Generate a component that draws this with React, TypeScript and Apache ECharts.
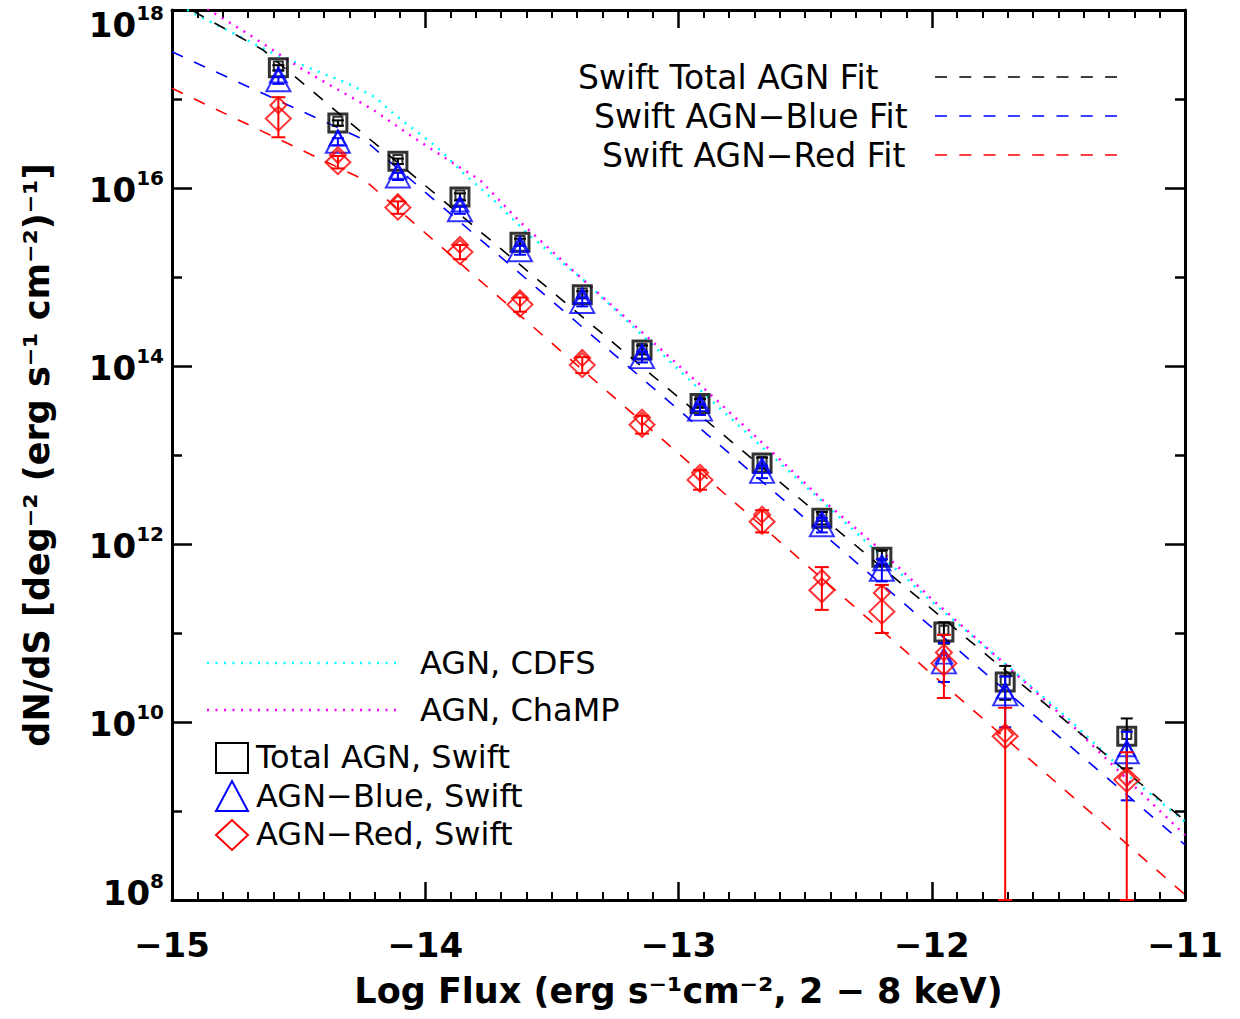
import React, { useEffect, useRef } from 'react';
import * as echarts from 'echarts';

// ---------- data (x: log flux, y: log10 dN/dS) ----------
const logS = [-14.58, -14.345, -14.108, -13.863, -13.626, -13.38, -13.144, -12.915, -12.67, -12.434, -12.197, -11.952, -11.71, -11.23];

const total = [17.35, 16.73, 16.30, 15.90, 15.39, 14.80, 14.18, 13.58, 12.91, 12.29, 11.85, 11.01, 10.45, 9.84];
const totalHi = [17.38, 16.76, 16.33, 15.94, 15.43, 14.84, 14.23, 13.63, 12.97, 12.36, 11.93, 11.12, 10.63, 10.04];
const totalLo = [17.32, 16.70, 16.27, 15.86, 15.35, 14.76, 14.13, 13.53, 12.85, 12.22, 11.77, 10.88, 10.25, 9.48];
const totalAlt = [17.37, 16.75, 16.32, 15.92, 15.41, 14.82, 14.20, 13.60, 12.93, 12.31, 11.87, 11.03, 10.47, 9.86];

const blue = [17.21, 16.52, 16.13, 15.75, 15.30, 14.72, 14.10, 13.51, 12.81, 12.21, 11.71, 10.67, 10.31, 9.66];
const blueHi = [17.25, 16.56, 16.17, 15.79, 15.35, 14.77, 14.16, 13.57, 12.88, 12.29, 11.83, 10.89, 10.51, 9.89];
const blueLo = [17.17, 16.48, 16.09, 15.71, 15.25, 14.67, 14.04, 13.45, 12.74, 12.13, 11.58, 10.45, 9.94, 9.12];
const blueAlt = [17.27, 16.56, 16.19, 15.82, 15.37, 14.79, 14.16, 13.58, 12.88, 12.28, 11.79, 10.74, 10.35, 9.70];

const red = [16.78, 16.29, 15.78, 15.28, 14.69, 14.01, 13.34, 12.72, 12.25, 11.48, 11.24, 10.66, 9.84, 9.35];
const redHi = [17.02, 16.36, 15.85, 15.36, 14.77, 14.10, 13.44, 12.83, 12.38, 11.74, 11.54, 10.98, 10.16, 9.66];
const redLo = [16.57, 16.22, 15.71, 15.20, 14.61, 13.92, 13.24, 12.61, 12.13, 11.26, 11.00, 10.27, 8.00, 8.00];
const redAlt = [16.93, 16.37, 15.84, 15.36, 14.76, 14.09, 13.42, 12.80, 12.33, 11.62, 11.45, 10.78, 9.86, 9.37];

const fitTotalS = [-15, -14.64, -11];
const fitTotalN = [18.12, 17.55, 8.89];
const fitBlueS = [-15, -14.24, -11];
const fitBlueN = [17.53, 16.54, 8.62];
const fitRedS = [-15, -14.24, -11];
const fitRedN = [17.12, 16.09, 8.06];

const cdfsS = [-15.0, -14.878, -14.731, -14.613, -14.416, -14.309, -14.198, -14.119, -13.954, -13.851, -13.732, -13.598, -13.377, -13.152, -12.915, -12.67, -12.429, -12.216, -12.007, -11.73, -11.466, -11.205, -11.0];
const cdfsN = [18.09, 17.91, 17.70, 17.53, 17.30, 17.18, 17.02, 16.82, 16.46, 16.17, 15.87, 15.49, 14.97, 14.37, 13.73, 13.09, 12.47, 11.91, 11.37, 10.70, 10.05, 9.35, 8.88];
const champS = [-15.0, -14.842, -14.704, -14.483, -14.206, -14.048, -13.89, -13.784, -13.626, -13.377, -13.152, -12.915, -12.67, -12.429, -12.216, -12.007, -11.73, -11.466, -11.205, -11.0];
const champN = [18.28, 17.98, 17.74, 17.33, 16.88, 16.57, 16.28, 16.09, 15.62, 14.97, 14.40, 13.79, 13.14, 12.49, 11.97, 11.40, 10.70, 10.02, 9.29, 8.73];

const xTicks = [-15, -14, -13, -12, -11];
const xTickLabels = ['\u221215', '\u221214', '\u221213', '\u221212', '\u221211'];
const yTickExps = [8, 10, 12, 14, 16, 18];

const FONT = '"DejaVu Sans", sans-serif';
const DASH = [12, 12.3];
const DOT = [2, 6.5];

const pairs = (xs: number[], ys: number[]) => xs.map((x, i) => [x, ys[i]]);
const triples = (xs: number[], lo: number[], hi: number[]) => xs.map((x, i) => [x, lo[i], hi[i]]);

const errRender = (color: string, cap: number, lw: number) => (params: any, api: any) => {
  const x = api.value(0);
  const lo = api.value(1);
  const hi = api.value(2);
  const a = api.coord([x, hi]);
  const b = api.coord([x, lo]);
  const h = cap / 2;
  const st = { stroke: color, lineWidth: lw };
  return {
    type: 'group',
    children: [
      { type: 'line', shape: { x1: a[0], y1: a[1], x2: b[0], y2: b[1] }, style: st },
      { type: 'line', shape: { x1: a[0] - h, y1: a[1], x2: a[0] + h, y2: a[1] }, style: st },
      { type: 'line', shape: { x1: b[0] - h, y1: b[1], x2: b[0] + h, y2: b[1] }, style: st },
    ],
  };
};

const yLabel = (v: number) => {
  if (yTickExps.indexOf(v) < 0) return '';
  if (v === 18) return `{bT|10}{sT|${v}}`;
  if (v === 8) return `{bB|10}{sB|${v}}`;
  return `{bG|10}{sG|${v}}`;
};

const bigBase = { fontFamily: FONT, fontWeight: 'bold', fontSize: 34, color: '#000', verticalAlign: 'top' };
const supBase = { fontFamily: FONT, fontWeight: 'bold', fontSize: 20, color: '#000', verticalAlign: 'top' };

export default function App() {
  const ref = useRef<HTMLDivElement>(null);
  useEffect(() => {
    if (!ref.current) return;
    const chart = echarts.init(ref.current, undefined, { renderer: 'svg' });

    const axisCommon = {
      type: 'value',
      splitLine: { show: false },
      minorSplitLine: { show: false },
      axisLine: { show: true, lineStyle: { color: '#000', width: 3 } },
    };

    const legendText = (text: string, x: number, y: number, size: number) => ({
      type: 'text',
      x,
      y,
      style: { text, fill: '#000', fontFamily: FONT, fontSize: size, align: 'left', verticalAlign: 'middle' },
    });

    const option: any = {
      animation: false,
      backgroundColor: '#fff',
      grid: { left: 172, right: 55, top: 10, bottom: 119, containLabel: false, outerBoundsMode: 'none' },
      xAxis: [
        {
          ...axisCommon,
          position: 'bottom',
          min: -15,
          max: -11,
          interval: 1,
          axisTick: { show: true, inside: true, length: 18, lineStyle: { color: '#000', width: 2.5 } },
          minorTick: { show: true, splitNumber: 10, length: 8, lineStyle: { color: '#000', width: 2 } },
          axisLabel: {
            show: true,
            margin: 28,
            fontFamily: FONT,
            fontWeight: 'bold',
            fontSize: 34,
            color: '#000',
            formatter: (v: number) => {
              const i = xTicks.indexOf(v);
              return i >= 0 ? xTickLabels[i] : '';
            },
          },
          name: 'Log Flux (erg s\u207B\u00B9cm\u207B\u00B2, 2 \u2212 8 keV)',
          nameLocation: 'middle',
          nameGap: 73,
          nameTextStyle: { fontFamily: FONT, fontWeight: 'bold', fontSize: 35, color: '#000' },
        },
        {
          ...axisCommon,
          position: 'top',
          min: -15,
          max: -11,
          interval: 1,
          axisTick: { show: true, inside: true, length: 18, lineStyle: { color: '#000', width: 2.5 } },
          minorTick: { show: true, splitNumber: 10, length: 8, lineStyle: { color: '#000', width: 2 } },
          axisLabel: { show: false },
        },
      ],
      yAxis: [
        {
          ...axisCommon,
          position: 'left',
          min: 8,
          max: 18,
          interval: 2,
          axisTick: { show: true, inside: true, length: 20, lineStyle: { color: '#000', width: 2.5 } },
          minorTick: { show: true, splitNumber: 2, length: 10, lineStyle: { color: '#000', width: 2.5 } },
          axisLabel: {
            show: true,
            margin: 8,
            formatter: yLabel,
            rich: {
              bG: { ...bigBase, lineHeight: 40, padding: [5, 0, 0, 0] },
              sG: { ...supBase, lineHeight: 40 },
              bT: { ...bigBase, lineHeight: 40, padding: [18, 0, 0, 0] },
              sT: { ...supBase, lineHeight: 40, padding: [12.5, 0, 0, 0] },
              bB: { ...bigBase, lineHeight: 60, padding: [6, 0, 0, 0] },
              sB: { ...supBase, lineHeight: 60, padding: [1, 0, 0, 0] },
            },
          },
          name: 'dN/dS [deg\u207B\u00B2 (erg s\u207B\u00B9 cm\u207B\u00B2)\u207B\u00B9]',
          nameLocation: 'middle',
          nameGap: 118,
          nameTextStyle: { fontFamily: FONT, fontWeight: 'bold', fontSize: 35, color: '#000' },
        },
        {
          ...axisCommon,
          position: 'right',
          min: 8,
          max: 18,
          interval: 2,
          axisTick: { show: true, inside: true, length: 20, lineStyle: { color: '#000', width: 2.5 } },
          minorTick: { show: true, splitNumber: 2, length: 10, lineStyle: { color: '#000', width: 2.5 } },
          axisLabel: { show: false },
        },
      ],
      series: [
        {
          name: 'AGN, CDFS', type: 'line', data: pairs(cdfsS, cdfsN), showSymbol: false, smooth: false,
          lineStyle: { color: '#00ffff', width: 2.5, type: DOT }, z: 2, silent: true,
        },
        {
          name: 'AGN, ChaMP', type: 'line', data: pairs(champS, champN), showSymbol: false,
          lineStyle: { color: '#ff00ff', width: 2.5, type: DOT }, z: 2, silent: true,
        },
        {
          name: 'Swift Total AGN Fit', type: 'line', data: pairs(fitTotalS, fitTotalN), showSymbol: false,
          lineStyle: { color: '#000', width: 1.6, type: DASH }, z: 3, silent: true,
        },
        {
          name: 'Swift AGN-Blue Fit', type: 'line', data: pairs(fitBlueS, fitBlueN), showSymbol: false,
          lineStyle: { color: '#0000ff', width: 1.6, type: DASH }, z: 3, silent: true,
        },
        {
          name: 'Swift AGN-Red Fit', type: 'line', data: pairs(fitRedS, fitRedN), showSymbol: false,
          lineStyle: { color: '#ff0000', width: 1.6, type: DASH }, z: 3, silent: true,
        },
        {
          name: 'Total err', type: 'custom', renderItem: errRender('#000', 12, 2), data: triples(logS, totalLo, totalHi),
          encode: { x: 0, y: [1, 2] }, z: 4, silent: true,
        },
        {
          name: 'Total AGN, Swift', type: 'scatter', data: pairs(logS, total), symbol: 'rect', symbolSize: 18,
          itemStyle: { color: 'rgba(0,0,0,0)', borderColor: '#000', borderWidth: 3 }, z: 4, silent: true,
        },
        {
          name: 'Total alt', type: 'scatter', data: pairs(logS, totalAlt), symbol: 'rect', symbolSize: 9,
          itemStyle: { color: 'rgba(0,0,0,0)', borderColor: '#000', borderWidth: 2 }, z: 4, silent: true,
        },
        {
          name: 'Blue err', type: 'custom', renderItem: errRender('#0000ff', 12, 2), data: triples(logS, blueLo, blueHi),
          encode: { x: 0, y: [1, 2] }, z: 5, silent: true,
        },
        {
          name: 'AGN-Blue, Swift', type: 'scatter', data: pairs(logS, blue), symbol: 'triangle', symbolSize: [24, 22],
          itemStyle: { color: 'rgba(0,0,0,0)', borderColor: '#0000ff', borderWidth: 2 }, z: 5, silent: true,
        },
        {
          name: 'Blue alt', type: 'scatter', data: pairs(logS, blueAlt), symbol: 'triangle', symbolSize: [17, 15],
          itemStyle: { color: 'rgba(0,0,0,0)', borderColor: '#0000ff', borderWidth: 2 }, z: 5, silent: true,
        },
        {
          name: 'Red err', type: 'custom', renderItem: errRender('#ff0000', 14, 2), data: triples(logS, redLo, redHi),
          encode: { x: 0, y: [1, 2] }, z: 6, silent: true,
        },
        {
          name: 'AGN-Red, Swift', type: 'scatter', data: pairs(logS, red), symbol: 'diamond', symbolSize: [25, 24],
          itemStyle: { color: 'rgba(0,0,0,0)', borderColor: '#ff0000', borderWidth: 2 }, z: 6, silent: true,
        },
        {
          name: 'Red alt', type: 'scatter', data: pairs(logS, redAlt), symbol: 'diamond', symbolSize: [16, 16],
          itemStyle: { color: 'rgba(0,0,0,0)', borderColor: '#ff0000', borderWidth: 2 }, z: 6, silent: true,
        },
      ],
      graphic: [
        legendText('Swift Total AGN Fit', 578, 77, 33),
        legendText('Swift AGN\u2212Blue Fit', 594, 116, 33),
        legendText('Swift AGN\u2212Red Fit', 602, 155, 33),
        { type: 'line', shape: { x1: 935, y1: 77, x2: 1117, y2: 77 }, style: { stroke: '#000', lineWidth: 1.6, lineDash: DASH } },
        { type: 'line', shape: { x1: 935, y1: 116, x2: 1117, y2: 116 }, style: { stroke: '#0000ff', lineWidth: 1.6, lineDash: DASH } },
        { type: 'line', shape: { x1: 935, y1: 155, x2: 1117, y2: 155 }, style: { stroke: '#ff0000', lineWidth: 1.6, lineDash: DASH } },

        { type: 'line', shape: { x1: 207, y1: 663, x2: 397, y2: 663 }, style: { stroke: '#00ffff', lineWidth: 2.5, lineDash: DOT } },
        { type: 'line', shape: { x1: 207, y1: 710, x2: 397, y2: 710 }, style: { stroke: '#ff00ff', lineWidth: 2.5, lineDash: DOT } },
        legendText('AGN, CDFS', 420, 663, 32),
        legendText('AGN, ChaMP', 420, 710, 32),

        { type: 'rect', shape: { x: 216, y: 743, width: 32, height: 30 }, style: { fill: 'none', stroke: '#000', lineWidth: 2 } },
        { type: 'polygon', shape: { points: [[216, 811], [248, 811], [232, 781]] }, style: { fill: 'none', stroke: '#0000ff', lineWidth: 2 } },
        { type: 'polygon', shape: { points: [[216, 835], [232, 820], [248, 835], [232, 850]] }, style: { fill: 'none', stroke: '#ff0000', lineWidth: 2 } },
        legendText('Total AGN, Swift', 256, 757, 32),
        legendText('AGN\u2212Blue, Swift', 256, 796, 32),
        legendText('AGN\u2212Red, Swift', 256, 834, 32),
      ],
    };

    chart.setOption(option);
    return () => chart.dispose();
  }, []);

  return (
    <div
      ref={ref}
      style={{ position: 'fixed', left: 0, top: 0, width: 1240, height: 1019, background: '#fff' }}
    />
  );
}
